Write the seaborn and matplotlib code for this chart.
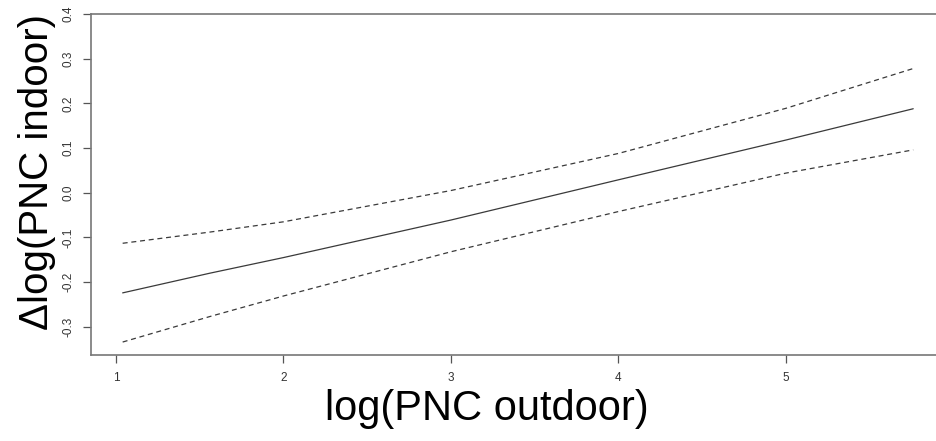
import matplotlib
matplotlib.use("Agg")
import matplotlib.pyplot as plt
import seaborn as sns
import pandas as pd

# Data
x_vals = [1.04, 1.56, 2.0, 3.0, 4.0, 5.0, 5.76]
fit = [-0.224, -0.180, -0.145, -0.061, 0.029, 0.118, 0.188]
upper = [-0.113, -0.088, -0.065, 0.005, 0.088, 0.189, 0.278]
lower = [-0.334, -0.277, -0.231, -0.132, -0.042, 0.044, 0.096]
x_ticks = [1, 2, 3, 4, 5]
y_ticks = [-0.3, -0.2, -0.1, 0.0, 0.1, 0.2, 0.3, 0.4]
y_tick_labels = ["-0.3", "-0.2", "-0.1", "0.0", "0.1", "0.2", "0.3", "0.4"]
x_label = "log(PNC outdoor)"
y_label = "\u0394log(PNC indoor)"

sns.set_style("white")
plt.rcParams['font.family'] = ['Liberation Sans', 'DejaVu Sans']

df = pd.DataFrame({"x": x_vals, "fit": fit, "upper": upper, "lower": lower})

fig = plt.figure(figsize=(9.36, 4.41), dpi=100)
ax = fig.add_axes([91/936, 1-355/441, 1-91/936, (355-14)/441])

line_col = "#3a3a3a"
sns.lineplot(data=df, x="x", y="fit", ax=ax, color=line_col, linewidth=0.9)
sns.lineplot(data=df, x="x", y="upper", ax=ax, color=line_col, linewidth=0.9,
             linestyle=(0, (4, 3)))
sns.lineplot(data=df, x="x", y="lower", ax=ax, color=line_col, linewidth=0.9,
             linestyle=(0, (4, 3)))

ax.set_xlim(0.851, 5.896)
ax.set_ylim(-0.363, 0.4)

ax.set_xticks(x_ticks)
ax.set_xticklabels([str(t) for t in x_ticks])
ax.set_yticks(y_ticks)
ax.set_yticklabels(y_tick_labels, rotation=90, va="center")

spine_col = "#777777"
for side in ["left", "top", "bottom"]:
    ax.spines[side].set_visible(True)
    ax.spines[side].set_color(spine_col)
    ax.spines[side].set_linewidth(1.2)
ax.spines["right"].set_visible(False)

ax.tick_params(axis="both", which="major", length=5.5, width=0.9, color="#555555",
               labelsize=8.5, labelcolor="#333333", direction="out")
ax.tick_params(axis="x", pad=7, bottom=True)
ax.tick_params(axis="y", pad=6.5, left=True)

ax.set_xlabel(x_label, fontsize=30, color="black")
ax.set_ylabel(y_label, fontsize=29, color="black")
ax.xaxis.set_label_coords((487-91)/845, -0.10)
ax.yaxis.set_label_coords(-0.041, 0.537)

fig.savefig("out.png", dpi=100)
